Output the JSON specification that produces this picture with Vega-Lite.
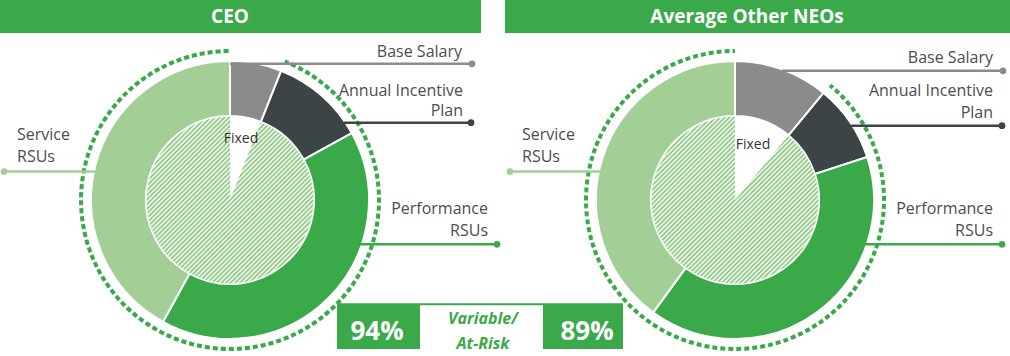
{
  "$schema": "https://vega.github.io/schema/vega-lite/v6.json",
  "width": 1010,
  "height": 356,
  "autosize": {"type": "fit", "contains": "padding"},
  "padding": 0,
  "background": "#ffffff",
  "config": {"view": {"stroke": null}, "font": "Open Sans", "text": {"font": "Open Sans"}},
  "resolve": {"scale": {"x": "independent", "y": "independent", "fill": "independent"}},
  "datasets": {
    "pay": [
      {"person": "CEO", "component": "Base Salary", "seq": 1, "value": 0.06},
      {"person": "CEO", "component": "Annual Incentive Plan", "seq": 2, "value": 0.11},
      {"person": "CEO", "component": "Performance RSUs", "seq": 3, "value": 0.41},
      {"person": "CEO", "component": "Service RSUs", "seq": 4, "value": 0.42},
      {"person": "Average Other NEOs", "component": "Base Salary", "seq": 1, "value": 0.11},
      {"person": "Average Other NEOs", "component": "Annual Incentive Plan", "seq": 2, "value": 0.09},
      {"person": "Average Other NEOs", "component": "Performance RSUs", "seq": 3, "value": 0.40},
      {"person": "Average Other NEOs", "component": "Service RSUs", "seq": 4, "value": 0.40}
    ],
    "split": [
      {"person": "CEO", "type": "Fixed", "seq": 1, "value": 0.06},
      {"person": "CEO", "type": "Variable", "seq": 2, "value": 0.94},
      {"person": "Average Other NEOs", "type": "Fixed", "seq": 1, "value": 0.11},
      {"person": "Average Other NEOs", "type": "Variable", "seq": 2, "value": 0.89}
    ],
    "headers": [
      {"person": "CEO", "x": 0, "x2": 481, "y": 0, "y2": 33, "tx": 230, "ty": 23},
      {"person": "Average Other NEOs", "x": 505, "x2": 1010, "y": 0, "y2": 33, "tx": 747, "ty": 23}
    ],
    "leaders": [
      {"person": "CEO", "component": "Base Salary", "x": 230, "x2": 472, "y": 64},
      {"person": "CEO", "component": "Annual Incentive Plan", "x": 344, "x2": 471, "y": 123},
      {"person": "CEO", "component": "Performance RSUs", "x": 360, "x2": 497, "y": 245},
      {"person": "CEO", "component": "Service RSUs", "x": 95, "x2": 4, "y": 172},
      {"person": "Average Other NEOs", "component": "Base Salary", "x": 782, "x2": 1003, "y": 71},
      {"person": "Average Other NEOs", "component": "Annual Incentive Plan", "x": 851, "x2": 1002, "y": 126},
      {"person": "Average Other NEOs", "component": "Performance RSUs", "x": 865, "x2": 1002, "y": 245},
      {"person": "Average Other NEOs", "component": "Service RSUs", "x": 600, "x2": 510, "y": 172}
    ],
    "labels": [
      {"person": "CEO", "side": "right", "text": "Base Salary", "x": 462, "y": 57},
      {"person": "CEO", "side": "right", "text": "Annual Incentive", "x": 463, "y": 96},
      {"person": "CEO", "side": "right", "text": "Plan", "x": 463, "y": 116},
      {"person": "CEO", "side": "right", "text": "Performance", "x": 488, "y": 215},
      {"person": "CEO", "side": "right", "text": "RSUs", "x": 488, "y": 237},
      {"person": "CEO", "side": "left", "text": "Service", "x": 17, "y": 140},
      {"person": "CEO", "side": "left", "text": "RSUs", "x": 17, "y": 162},
      {"person": "CEO", "side": "center", "text": "Fixed", "x": 241, "y": 143},
      {"person": "Average Other NEOs", "side": "right", "text": "Base Salary", "x": 993, "y": 63},
      {"person": "Average Other NEOs", "side": "right", "text": "Annual Incentive", "x": 993, "y": 96},
      {"person": "Average Other NEOs", "side": "right", "text": "Plan", "x": 993, "y": 118},
      {"person": "Average Other NEOs", "side": "right", "text": "Performance", "x": 993, "y": 215},
      {"person": "Average Other NEOs", "side": "right", "text": "RSUs", "x": 993, "y": 237},
      {"person": "Average Other NEOs", "side": "left", "text": "Service", "x": 522, "y": 140},
      {"person": "Average Other NEOs", "side": "left", "text": "RSUs", "x": 522, "y": 162},
      {"person": "Average Other NEOs", "side": "center", "text": "Fixed", "x": 753, "y": 149}
    ],
    "boxes": [
      {"part": "frame", "x": 337, "x2": 623, "y": 304, "y2": 350},
      {"part": "gap", "x": 420, "x2": 543, "y": 306, "y2": 356}
    ],
    "captions": [
      {"text": "Variable/", "x": 483, "y": 325},
      {"text": "At-Risk", "x": 483, "y": 350}
    ]
  },
  "layer": [
    {
      "data": {"name": "headers"},
      "mark": {"type": "rect", "fill": "#3aa94a"},
      "encoding": {
        "x": {"field": "x", "type": "quantitative", "scale": {"domain": [0, 1010], "nice": false, "zero": false}, "axis": null},
        "x2": {"field": "x2"},
        "y": {"field": "y", "type": "quantitative", "scale": {"domain": [0, 356], "nice": false, "zero": false, "reverse": true}, "axis": null},
        "y2": {"field": "y2"}
      }
    },
    {
      "data": {"name": "headers"},
      "mark": {"type": "text", "fill": "#ffffff", "fontWeight": "bold", "fontSize": 19, "align": "center", "baseline": "alphabetic"},
      "encoding": {
        "x": {"field": "tx", "type": "quantitative", "scale": {"domain": [0, 1010], "nice": false, "zero": false}, "axis": null},
        "y": {"field": "ty", "type": "quantitative", "scale": {"domain": [0, 356], "nice": false, "zero": false, "reverse": true}, "axis": null},
        "text": {"field": "person"}
      }
    },
    {
      "data": {"name": "split"},
      "transform": [
        {"stack": "value", "groupby": ["person"], "sort": [{"field": "seq", "order": "ascending"}], "as": ["v0", "v1"]},
        {"filter": "datum.type === 'Variable' && datum.person === 'CEO'"}
      ],
      "mark": {"type": "arc", "radius": 149, "radius2": 149, "strokeWidth": 4, "fill": null, "stroke": "#3aa94a", "strokeCap": "butt", "strokeDash": [4, 4.0185]},
      "encoding": {
        "x": {"field": "person", "type": "nominal", "scale": {"type": "point", "padding": 0, "domain": ["CEO", "Average Other NEOs"], "range": [230, 735]}, "axis": null},
        "y": {"field": "person", "type": "nominal", "scale": {"type": "point", "padding": 0, "domain": ["CEO", "Average Other NEOs"], "range": [200, 200]}, "axis": null},
        "theta": {"field": "v0", "type": "quantitative", "scale": {"domain": [0, 1], "range": [0, 6.283185307179586]}},
        "theta2": {"field": "v1"}
      }
    },
    {
      "data": {"name": "split"},
      "transform": [
        {"stack": "value", "groupby": ["person"], "sort": [{"field": "seq", "order": "ascending"}], "as": ["v0", "v1"]},
        {"filter": "datum.type === 'Variable' && datum.person !== 'CEO'"}
      ],
      "mark": {"type": "arc", "radius": 149, "radius2": 149, "strokeWidth": 4, "fill": null, "stroke": "#3aa94a", "strokeCap": "butt", "strokeDash": [4, 3.9924]},
      "encoding": {
        "x": {"field": "person", "type": "nominal", "scale": {"type": "point", "padding": 0, "domain": ["CEO", "Average Other NEOs"], "range": [230, 735]}, "axis": null},
        "y": {"field": "person", "type": "nominal", "scale": {"type": "point", "padding": 0, "domain": ["CEO", "Average Other NEOs"], "range": [200, 200]}, "axis": null},
        "theta": {"field": "v0", "type": "quantitative", "scale": {"domain": [0, 1], "range": [0, 6.283185307179586]}},
        "theta2": {"field": "v1"}
      }
    },
    {
      "data": {"name": "pay"},
      "transform": [{"stack": "value", "groupby": ["person"], "sort": [{"field": "seq", "order": "ascending"}], "as": ["v0", "v1"]}],
      "mark": {"type": "arc", "radius": 139, "radius2": 84, "stroke": "#ffffff", "strokeWidth": 2},
      "encoding": {
        "x": {"field": "person", "type": "nominal", "scale": {"type": "point", "padding": 0, "domain": ["CEO", "Average Other NEOs"], "range": [230, 735]}, "axis": null},
        "y": {"field": "person", "type": "nominal", "scale": {"type": "point", "padding": 0, "domain": ["CEO", "Average Other NEOs"], "range": [200, 200]}, "axis": null},
        "theta": {"field": "v0", "type": "quantitative", "scale": {"domain": [0, 1], "range": [0, 6.283185307179586]}},
        "theta2": {"field": "v1"},
        "fill": {"field": "component", "type": "nominal", "scale": {"domain": ["Base Salary", "Annual Incentive Plan", "Performance RSUs", "Service RSUs"], "range": ["#8b8b8b", "#3c4446", "#3aa94a", "#a3cf96"]}, "legend": null}
      }
    },
    {
      "data": {"name": "split"},
      "transform": [{"stack": "value", "groupby": ["person"], "sort": [{"field": "seq", "order": "ascending"}], "as": ["v0", "v1"]}],
      "mark": {"type": "arc", "radius": 83.5, "radius2": 0, "strokeWidth": 0},
      "encoding": {
        "x": {"field": "person", "type": "nominal", "scale": {"type": "point", "padding": 0, "domain": ["CEO", "Average Other NEOs"], "range": [230, 735]}, "axis": null},
        "y": {"field": "person", "type": "nominal", "scale": {"type": "point", "padding": 0, "domain": ["CEO", "Average Other NEOs"], "range": [200, 200]}, "axis": null},
        "theta": {"field": "v0", "type": "quantitative", "scale": {"domain": [0, 1], "range": [0, 6.283185307179586]}},
        "theta2": {"field": "v1"},
        "fill": {"condition": {"test": "datum.type === 'Fixed'", "value": "#ffffff"}, "value": {"gradient": "linear", "x1": 0, "y1": 0, "x2": 1, "y2": 1, "stops": [
          {"offset": 0, "color": "#80c174"}, {"offset": 0.0069, "color": "#ffffff"}, {"offset": 0.0139, "color": "#80c174"}, {"offset": 0.0208, "color": "#ffffff"},
          {"offset": 0.0278, "color": "#80c174"}, {"offset": 0.0347, "color": "#ffffff"}, {"offset": 0.0417, "color": "#80c174"}, {"offset": 0.0486, "color": "#ffffff"},
          {"offset": 0.0556, "color": "#80c174"}, {"offset": 0.0625, "color": "#ffffff"}, {"offset": 0.0694, "color": "#80c174"}, {"offset": 0.0764, "color": "#ffffff"},
          {"offset": 0.0833, "color": "#80c174"}, {"offset": 0.0903, "color": "#ffffff"}, {"offset": 0.0972, "color": "#80c174"}, {"offset": 0.1042, "color": "#ffffff"},
          {"offset": 0.1111, "color": "#80c174"}, {"offset": 0.1181, "color": "#ffffff"}, {"offset": 0.125, "color": "#80c174"}, {"offset": 0.1319, "color": "#ffffff"},
          {"offset": 0.1389, "color": "#80c174"}, {"offset": 0.1458, "color": "#ffffff"}, {"offset": 0.1528, "color": "#80c174"}, {"offset": 0.1597, "color": "#ffffff"},
          {"offset": 0.1667, "color": "#80c174"}, {"offset": 0.1736, "color": "#ffffff"}, {"offset": 0.1806, "color": "#80c174"}, {"offset": 0.1875, "color": "#ffffff"},
          {"offset": 0.1944, "color": "#80c174"}, {"offset": 0.2014, "color": "#ffffff"}, {"offset": 0.2083, "color": "#80c174"}, {"offset": 0.2153, "color": "#ffffff"},
          {"offset": 0.2222, "color": "#80c174"}, {"offset": 0.2292, "color": "#ffffff"}, {"offset": 0.2361, "color": "#80c174"}, {"offset": 0.2431, "color": "#ffffff"},
          {"offset": 0.25, "color": "#80c174"}, {"offset": 0.2569, "color": "#ffffff"}, {"offset": 0.2639, "color": "#80c174"}, {"offset": 0.2708, "color": "#ffffff"},
          {"offset": 0.2778, "color": "#80c174"}, {"offset": 0.2847, "color": "#ffffff"}, {"offset": 0.2917, "color": "#80c174"}, {"offset": 0.2986, "color": "#ffffff"},
          {"offset": 0.3056, "color": "#80c174"}, {"offset": 0.3125, "color": "#ffffff"}, {"offset": 0.3194, "color": "#80c174"}, {"offset": 0.3264, "color": "#ffffff"},
          {"offset": 0.3333, "color": "#80c174"}, {"offset": 0.3403, "color": "#ffffff"}, {"offset": 0.3472, "color": "#80c174"}, {"offset": 0.3542, "color": "#ffffff"},
          {"offset": 0.3611, "color": "#80c174"}, {"offset": 0.3681, "color": "#ffffff"}, {"offset": 0.375, "color": "#80c174"}, {"offset": 0.3819, "color": "#ffffff"},
          {"offset": 0.3889, "color": "#80c174"}, {"offset": 0.3958, "color": "#ffffff"}, {"offset": 0.4028, "color": "#80c174"}, {"offset": 0.4097, "color": "#ffffff"},
          {"offset": 0.4167, "color": "#80c174"}, {"offset": 0.4236, "color": "#ffffff"}, {"offset": 0.4306, "color": "#80c174"}, {"offset": 0.4375, "color": "#ffffff"},
          {"offset": 0.4444, "color": "#80c174"}, {"offset": 0.4514, "color": "#ffffff"}, {"offset": 0.4583, "color": "#80c174"}, {"offset": 0.4653, "color": "#ffffff"},
          {"offset": 0.4722, "color": "#80c174"}, {"offset": 0.4792, "color": "#ffffff"}, {"offset": 0.4861, "color": "#80c174"}, {"offset": 0.4931, "color": "#ffffff"},
          {"offset": 0.5, "color": "#80c174"}, {"offset": 0.5069, "color": "#ffffff"}, {"offset": 0.5139, "color": "#80c174"}, {"offset": 0.5208, "color": "#ffffff"},
          {"offset": 0.5278, "color": "#80c174"}, {"offset": 0.5347, "color": "#ffffff"}, {"offset": 0.5417, "color": "#80c174"}, {"offset": 0.5486, "color": "#ffffff"},
          {"offset": 0.5556, "color": "#80c174"}, {"offset": 0.5625, "color": "#ffffff"}, {"offset": 0.5694, "color": "#80c174"}, {"offset": 0.5764, "color": "#ffffff"},
          {"offset": 0.5833, "color": "#80c174"}, {"offset": 0.5903, "color": "#ffffff"}, {"offset": 0.5972, "color": "#80c174"}, {"offset": 0.6042, "color": "#ffffff"},
          {"offset": 0.6111, "color": "#80c174"}, {"offset": 0.6181, "color": "#ffffff"}, {"offset": 0.625, "color": "#80c174"}, {"offset": 0.6319, "color": "#ffffff"},
          {"offset": 0.6389, "color": "#80c174"}, {"offset": 0.6458, "color": "#ffffff"}, {"offset": 0.6528, "color": "#80c174"}, {"offset": 0.6597, "color": "#ffffff"},
          {"offset": 0.6667, "color": "#80c174"}, {"offset": 0.6736, "color": "#ffffff"}, {"offset": 0.6806, "color": "#80c174"}, {"offset": 0.6875, "color": "#ffffff"},
          {"offset": 0.6944, "color": "#80c174"}, {"offset": 0.7014, "color": "#ffffff"}, {"offset": 0.7083, "color": "#80c174"}, {"offset": 0.7153, "color": "#ffffff"},
          {"offset": 0.7222, "color": "#80c174"}, {"offset": 0.7292, "color": "#ffffff"}, {"offset": 0.7361, "color": "#80c174"}, {"offset": 0.7431, "color": "#ffffff"},
          {"offset": 0.75, "color": "#80c174"}, {"offset": 0.7569, "color": "#ffffff"}, {"offset": 0.7639, "color": "#80c174"}, {"offset": 0.7708, "color": "#ffffff"},
          {"offset": 0.7778, "color": "#80c174"}, {"offset": 0.7847, "color": "#ffffff"}, {"offset": 0.7917, "color": "#80c174"}, {"offset": 0.7986, "color": "#ffffff"},
          {"offset": 0.8056, "color": "#80c174"}, {"offset": 0.8125, "color": "#ffffff"}, {"offset": 0.8194, "color": "#80c174"}, {"offset": 0.8264, "color": "#ffffff"},
          {"offset": 0.8333, "color": "#80c174"}, {"offset": 0.8403, "color": "#ffffff"}, {"offset": 0.8472, "color": "#80c174"}, {"offset": 0.8542, "color": "#ffffff"},
          {"offset": 0.8611, "color": "#80c174"}, {"offset": 0.8681, "color": "#ffffff"}, {"offset": 0.875, "color": "#80c174"}, {"offset": 0.8819, "color": "#ffffff"},
          {"offset": 0.8889, "color": "#80c174"}, {"offset": 0.8958, "color": "#ffffff"}, {"offset": 0.9028, "color": "#80c174"}, {"offset": 0.9097, "color": "#ffffff"},
          {"offset": 0.9167, "color": "#80c174"}, {"offset": 0.9236, "color": "#ffffff"}, {"offset": 0.9306, "color": "#80c174"}, {"offset": 0.9375, "color": "#ffffff"},
          {"offset": 0.9444, "color": "#80c174"}, {"offset": 0.9514, "color": "#ffffff"}, {"offset": 0.9583, "color": "#80c174"}, {"offset": 0.9653, "color": "#ffffff"},
          {"offset": 0.9722, "color": "#80c174"}, {"offset": 0.9792, "color": "#ffffff"}, {"offset": 0.9861, "color": "#80c174"}, {"offset": 0.9931, "color": "#ffffff"},
          {"offset": 1, "color": "#80c174"}
        ]}}
      }
    },
    {
      "data": {"name": "leaders"},
      "mark": {"type": "rule", "strokeWidth": 2.5},
      "encoding": {
        "x": {"field": "x", "type": "quantitative", "scale": {"domain": [0, 1010], "nice": false, "zero": false}, "axis": null},
        "x2": {"field": "x2"},
        "y": {"field": "y", "type": "quantitative", "scale": {"domain": [0, 356], "nice": false, "zero": false, "reverse": true}, "axis": null},
        "color": {"field": "component", "type": "nominal", "scale": {"domain": ["Base Salary", "Annual Incentive Plan", "Performance RSUs", "Service RSUs"], "range": ["#8b8b8b", "#3c4446", "#3aa94a", "#a3cf96"]}, "legend": null}
      }
    },
    {
      "data": {"name": "leaders"},
      "mark": {"type": "circle", "size": 45, "opacity": 1},
      "encoding": {
        "x": {"field": "x2", "type": "quantitative", "scale": {"domain": [0, 1010], "nice": false, "zero": false}, "axis": null},
        "y": {"field": "y", "type": "quantitative", "scale": {"domain": [0, 356], "nice": false, "zero": false, "reverse": true}, "axis": null},
        "color": {"field": "component", "type": "nominal", "scale": {"domain": ["Base Salary", "Annual Incentive Plan", "Performance RSUs", "Service RSUs"], "range": ["#8b8b8b", "#3c4446", "#3aa94a", "#a3cf96"]}, "legend": null}
      }
    },
    {
      "data": {"name": "labels"},
      "transform": [{"filter": "datum.side === 'right'"}],
      "mark": {"type": "text", "align": "right", "baseline": "alphabetic", "fontSize": 16, "fill": "#4d4d4d"},
      "encoding": {
        "x": {"field": "x", "type": "quantitative", "scale": {"domain": [0, 1010], "nice": false, "zero": false}, "axis": null},
        "y": {"field": "y", "type": "quantitative", "scale": {"domain": [0, 356], "nice": false, "zero": false, "reverse": true}, "axis": null},
        "text": {"field": "text"}
      }
    },
    {
      "data": {"name": "labels"},
      "transform": [{"filter": "datum.side === 'left'"}],
      "mark": {"type": "text", "align": "left", "baseline": "alphabetic", "fontSize": 16, "fill": "#4d4d4d"},
      "encoding": {
        "x": {"field": "x", "type": "quantitative", "scale": {"domain": [0, 1010], "nice": false, "zero": false}, "axis": null},
        "y": {"field": "y", "type": "quantitative", "scale": {"domain": [0, 356], "nice": false, "zero": false, "reverse": true}, "axis": null},
        "text": {"field": "text"}
      }
    },
    {
      "data": {"name": "labels"},
      "transform": [{"filter": "datum.side === 'center'"}],
      "mark": {"type": "text", "align": "center", "baseline": "alphabetic", "fontSize": 14, "fill": "#333333"},
      "encoding": {
        "x": {"field": "x", "type": "quantitative", "scale": {"domain": [0, 1010], "nice": false, "zero": false}, "axis": null},
        "y": {"field": "y", "type": "quantitative", "scale": {"domain": [0, 356], "nice": false, "zero": false, "reverse": true}, "axis": null},
        "text": {"field": "text"}
      }
    },
    {
      "data": {"name": "boxes"},
      "mark": {"type": "rect"},
      "encoding": {
        "x": {"field": "x", "type": "quantitative", "scale": {"domain": [0, 1010], "nice": false, "zero": false}, "axis": null},
        "x2": {"field": "x2"},
        "y": {"field": "y", "type": "quantitative", "scale": {"domain": [0, 356], "nice": false, "zero": false, "reverse": true}, "axis": null},
        "y2": {"field": "y2"},
        "fill": {"field": "part", "type": "nominal", "scale": {"domain": ["frame", "gap"], "range": ["#3aa94a", "#ffffff"]}, "legend": null}
      }
    },
    {
      "data": {"name": "split"},
      "transform": [{"filter": "datum.type === 'Variable'"}],
      "mark": {"type": "text", "fill": "#ffffff", "fontWeight": "bold", "fontSize": 26, "align": "center", "baseline": "alphabetic"},
      "encoding": {
        "x": {"field": "person", "type": "nominal", "scale": {"type": "point", "padding": 0, "domain": ["CEO", "Average Other NEOs"], "range": [377, 587]}, "axis": null},
        "y": {"field": "person", "type": "nominal", "scale": {"type": "point", "padding": 0, "domain": ["CEO", "Average Other NEOs"], "range": [340, 340]}, "axis": null},
        "text": {"field": "value", "type": "quantitative", "format": ".0%"}
      }
    },
    {
      "data": {"name": "captions"},
      "mark": {"type": "text", "fill": "#3aa94a", "fontWeight": "bold", "fontStyle": "italic", "fontSize": 16, "align": "center", "baseline": "alphabetic"},
      "encoding": {
        "x": {"field": "x", "type": "quantitative", "scale": {"domain": [0, 1010], "nice": false, "zero": false}, "axis": null},
        "y": {"field": "y", "type": "quantitative", "scale": {"domain": [0, 356], "nice": false, "zero": false, "reverse": true}, "axis": null},
        "text": {"field": "text"}
      }
    }
  ]
}
